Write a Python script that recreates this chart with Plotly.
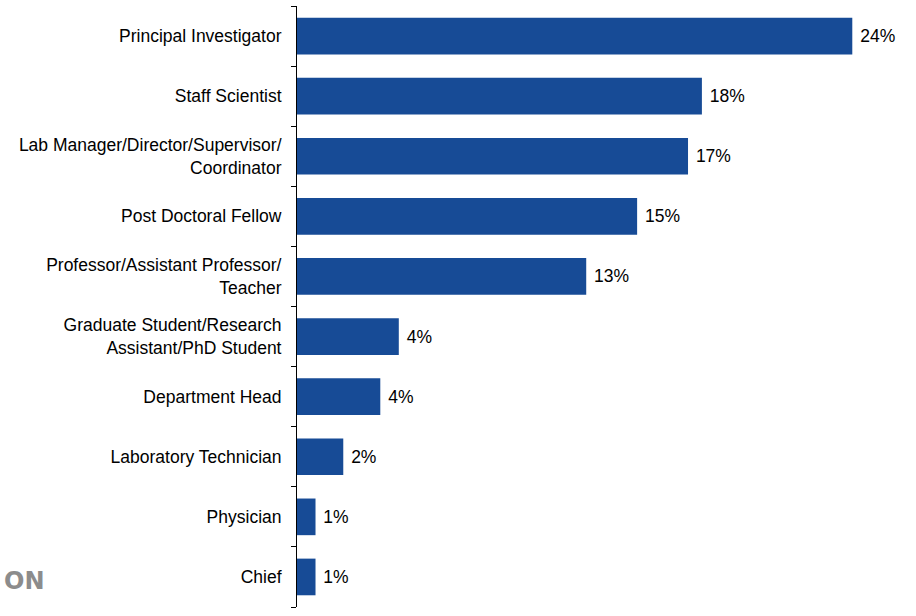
import math
import plotly.graph_objects as go

# Respondent job roles, top to bottom
roles = [
    "Principal Investigator",
    "Staff Scientist",
    "Lab Manager/Director/Supervisor/<br>Coordinator",
    "Post Doctoral Fellow",
    "Professor/Assistant Professor/<br>Teacher",
    "Graduate Student/Research<br>Assistant/PhD Student",
    "Department Head",
    "Laboratory Technician",
    "Physician",
    "Chief",
]
# Share of respondents (%)
shares = [24.0, 17.5, 16.9, 14.7, 12.5, 4.4, 3.6, 2.0, 0.8, 0.8]

BAR_COLOR = "#174b96"
FONT = "Liberation Sans, Arial, sans-serif"
FONT_SIZE = 17.5


def pct_label(v):
    # round half up to a whole percent
    return f" {math.floor(v + 0.5)}%"


fig = go.Figure(
    go.Bar(
        x=shares,
        y=roles,
        orientation="h",
        marker=dict(color=BAR_COLOR, line=dict(width=0)),
        text=[pct_label(v) for v in shares],
        textposition="outside",
        textfont=dict(family=FONT, size=FONT_SIZE, color="#000000"),
        cliponaxis=False,
        width=0.61,
    )
)

fig.update_layout(
    width=916,
    height=616,
    margin=dict(l=297, r=29, t=6, b=9),
    paper_bgcolor="white",
    plot_bgcolor="white",
    showlegend=False,
    font=dict(family=FONT, size=FONT_SIZE, color="#000000"),
    xaxis=dict(
        range=[0, 25.5],
        visible=False,
        showgrid=False,
        zeroline=False,
    ),
    yaxis=dict(
        categoryorder="array",
        categoryarray=roles[::-1],
        autorange=False,
        range=[-0.5, len(roles) - 0.5],
        showline=True,
        linecolor="#000000",
        linewidth=1,
        ticks="outside",
        tickson="boundaries",
        ticklen=5,
        tickcolor="#000000",
        ticklabelstandoff=11,
        showgrid=False,
        zeroline=False,
        tickfont=dict(family=FONT, size=FONT_SIZE, color="#000000"),
    ),
    annotations=[
        dict(
            text="<b>ON</b>",
            xref="paper",
            yref="paper",
            x=(47 - 297) / 590,
            y=(616 - 9 - 581) / 601,
            xanchor="right",
            yanchor="middle",
            showarrow=False,
            font=dict(family="DejaVu Sans", size=24, color="#8c8c8c"),
        )
    ],
)

fig.write_html("out.html")
